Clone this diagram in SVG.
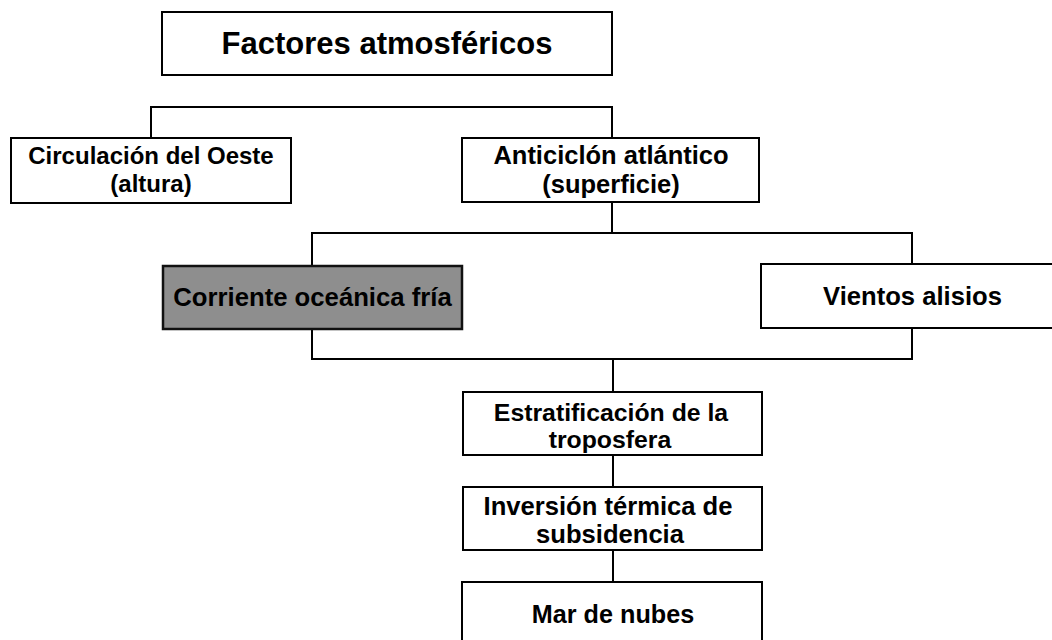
<svg xmlns="http://www.w3.org/2000/svg" width="1052" height="640" viewBox="0 0 1052 640">
<style>
.box{fill:#ffffff;stroke:#000000;stroke-width:2}
.dark{fill:#8e8e8e;stroke:#111111;stroke-width:2.5}
.t{font-family:"Liberation Sans",Arial,sans-serif;font-weight:bold;fill:#000000;text-anchor:middle}
.c{fill:none;stroke:#000000;stroke-width:2}
</style>
<rect width="1052" height="640" fill="#ffffff"/>
<g id="connectors">
<path class="c" d="M151,138 V107 H612 V138"/>
<path class="c" d="M612,202 V233"/>
<path class="c" d="M312,266 V233 H912 V264"/>
<path class="c" d="M312,329 V359 H912 V328"/>
<path class="c" d="M613,359 V392"/>
<path class="c" d="M613,455 V487"/>
<path class="c" d="M613,550 V582"/>
</g>
<g id="factores">
<rect class="box" x="162" y="12" width="450" height="63"/>
<text class="t" x="387" y="54" font-size="31">Factores atmosféricos</text>
</g>
<g id="circulacion">
<rect class="box" x="11" y="138" width="280" height="65"/>
<text class="t" x="151" y="164" font-size="24">Circulación del Oeste</text>
<text class="t" x="151" y="192" font-size="24">(altura)</text>
</g>
<g id="anticiclon">
<rect class="box" x="462" y="138" width="297" height="64"/>
<text class="t" x="611" y="164" font-size="25.5">Anticiclón atlántico</text>
<text class="t" x="611" y="193" font-size="25.5">(superficie)</text>
</g>
<g id="corriente">
<rect class="dark" x="163" y="266" width="299" height="63"/>
<text class="t" x="312.5" y="306" font-size="25.7">Corriente oceánica fría</text>
</g>
<g id="vientos">
<rect class="box" x="761" y="264" width="300" height="64"/>
<text class="t" x="912.5" y="305" font-size="25.6">Vientos alisios</text>
</g>
<g id="estratificacion">
<rect class="box" x="463" y="392" width="299" height="63"/>
<text class="t" x="611" y="421" font-size="24.8">Estratificación de la</text>
<text class="t" x="610" y="448" font-size="24.8">troposfera</text>
</g>
<g id="inversion">
<rect class="box" x="463" y="487" width="299" height="63"/>
<text class="t" x="608" y="515" font-size="25.6">Inversión térmica de</text>
<text class="t" x="610" y="543" font-size="25.6">subsidencia</text>
</g>
<g id="mar">
<rect class="box" x="462" y="582" width="300" height="70"/>
<text class="t" x="613" y="623" font-size="25.2">Mar de nubes</text>
</g>
</svg>
